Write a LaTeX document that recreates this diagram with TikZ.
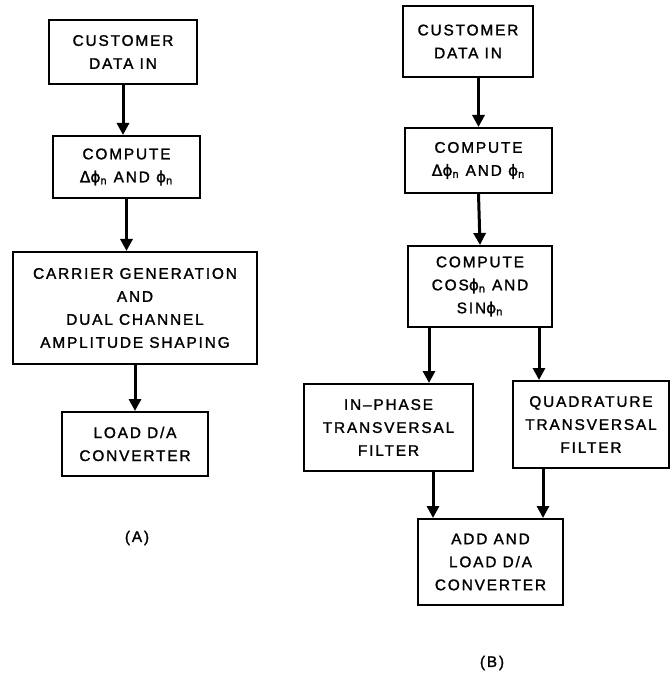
\documentclass[tikz,border=0pt]{standalone}
\usepackage{fontspec}
\setmainfont[LetterSpace=12, FakeBold=1.5]{Liberation Sans}
\newfontfamily\grk[FakeBold=1.5]{DejaVu Sans}
\newcommand{\ph}{{\grk ϕ}\textsubscript{n}}
\newcommand{\dph}{{\grk Δϕ}\textsubscript{n}}
\usetikzlibrary{arrows.meta}

\begin{document}
\begin{tikzpicture}[
    x=0.5pt, y=-0.5pt,
    box/.style={rectangle, draw, line width=1pt, align=center, inner sep=0pt, font=\fontsize{7.7}{11.5}\selectfont},
    flow/.style={line width=1.5pt, -{Triangle[length=6pt, width=6pt]}},
    tag/.style={inner sep=0pt, font=\fontsize{7.7}{11.5}\selectfont},
]
    \useasboundingbox (0,0) rectangle (671,673);

    % Nodes (A)
    \node[box, minimum width=74pt, minimum height=32pt] (A1) at (123,52) {CUSTOMER\\DATA IN};
    \node[box, minimum width=73.5pt, minimum height=31pt] (A2) at (126.5,167) {COMPUTE\\\dph{} AND \ph};
    \node[box, minimum width=122pt, minimum height=56pt] (A3) at (135,308) {CARRIER GENERATION\\AND\\DUAL CHANNEL\\AMPLITUDE SHAPING};
    \node[box, minimum width=73pt, minimum height=32pt] (A4) at (135,444) {LOAD D/A\\CONVERTER};
    \node[tag] (labA) at (137,538) {(A)};

    % Nodes (B)
    \node[box, minimum width=65pt, minimum height=35.5pt] (B1) at (468,41.5) {CUSTOMER\\DATA IN};
    \node[box, minimum width=73.5pt, minimum height=32.5pt] (B2) at (478.5,160.5) {COMPUTE\\\dph{} AND \ph};
    \node[box, minimum width=72pt, minimum height=40.5pt] (B3) at (480,286.5) {COMPUTE\\COS\ph{} AND\\SIN\ph};
    \node[box, minimum width=84.5pt, minimum height=43.5pt] (B4) at (388.5,427.5) {IN--PHASE\\TRANSVERSAL\\FILTER};
    \node[box, minimum width=78pt, minimum height=43.5pt] (B5) at (591,424.5) {QUADRATURE\\TRANSVERSAL\\FILTER};
    \node[box, minimum width=72.5pt, minimum height=43pt] (B6) at (490.5,562) {ADD AND\\LOAD D/A\\CONVERTER};
    \node[tag] (labB) at (492,663) {(B)};

    % Lines (A)
    \draw[flow] (A1.south) -- (A1.south |- A2.north);
    \draw[flow] (A2.south) -- (A2.south |- A3.north);
    \draw[flow] (A3.south) -- (A4.north);

    % Lines (B)
    \draw[flow] (B2.north |- B1.south) -- (B2.north);
    \draw[flow] (B2.south) -- (B3.north);
    \draw[flow] ([xshift=-25.5pt]B3.south) -- ([xshift=20.25pt]B4.north);
    \draw[flow] ([xshift=29.5pt]B3.south) -- ([xshift=-26pt]B5.north);
    \draw[flow] ([xshift=22.25pt]B4.south) -- ([xshift=-28.75pt]B6.north);
    \draw[flow] ([xshift=-24pt]B5.south) -- ([xshift=26.25pt]B6.north);

\end{tikzpicture}
\end{document}
